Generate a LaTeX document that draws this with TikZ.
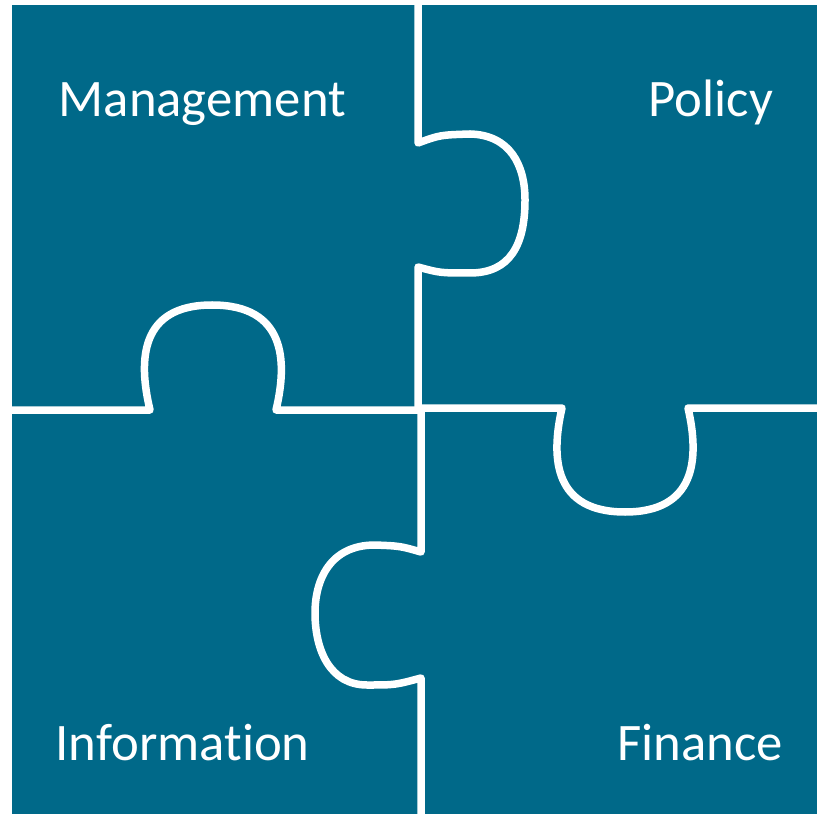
\documentclass[tikz,border=0pt]{standalone}
\usepackage{fontspec}
\setmainfont{Carlito}[Ligatures=NoCommon]
\usepackage{xcolor}
\usepackage{tikz}
\definecolor{piecebg}{RGB}{0,105,137}

\begin{document}
\begin{tikzpicture}[x=0.1mm,y=-0.1mm,
        gap/.style={draw=white, line width=0.75mm, line join=round},
        piecetext/.style={text=white, inner sep=0pt, anchor=base west,
            font=\fontsize{15}{18}\selectfont}]
        \useasboundingbox (0,0) rectangle (817,814);
        \fill[white] (0,0) rectangle (817,814);
        \fill[piecebg] (12,5) rectangle (817,814);

        % upper vertical cut with knob to the right
        \draw[gap] (418,5) -- (418,143)
            .. controls (440,135) .. (470,134)
            .. controls (510,135) and (525,165) .. (525,200)
            .. controls (525,245) and (510,273) .. (470,273)
            .. controls (440,273) .. (418,267) -- (418,409);

        % lower vertical cut with knob to the left
        \draw[gap] (421,409) -- (421,552)
            .. controls (400,546) .. (375,545)
            .. controls (330,545) and (315,580) .. (315,613)
            .. controls (315,650) and (330,685) .. (367,685)
            .. controls (395,685) .. (421,678) -- (421,814);

        % left horizontal cut with knob upwards
        \draw[gap] (12,410) -- (150,410)
            .. controls (138,360) and (140,305) .. (212,305)
            .. controls (285,305) and (288,360) .. (276,410) -- (418,410);

        % right horizontal cut with knob downwards
        \draw[gap] (418,408) -- (562,408)
            .. controls (550,460) and (555,512) .. (625,512)
            .. controls (695,512) and (700,460) .. (688,408) -- (817,408);

        \node[piecetext] (mgmt)   at (58,117)  {Management};
        \node[piecetext] (policy) at (648,117) {Policy};
        \node[piecetext] (info)   at (55,760)  {Information};
        \node[piecetext] (fin)    at (617,760) {Finance};
\end{tikzpicture}
\end{document}
